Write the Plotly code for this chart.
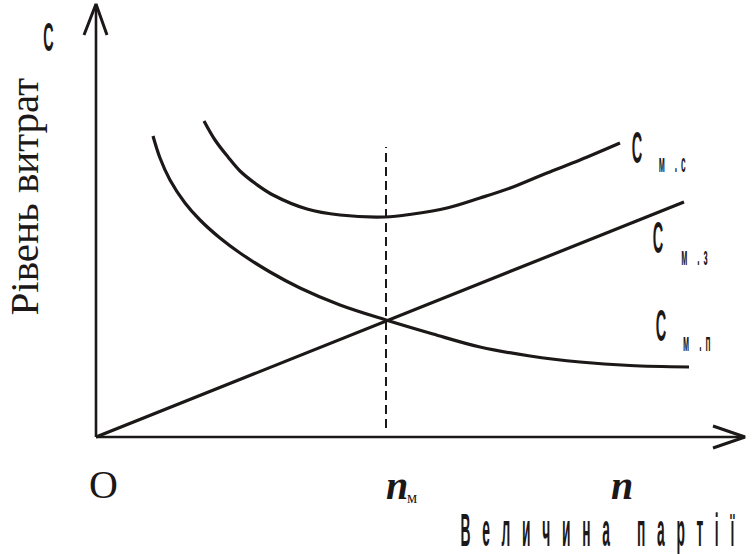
import json
import plotly.graph_objects as go

# ---- data (schematic units: origin at the axes crossing) ----
cmp_x = [57, 64, 74, 89, 104, 124, 144, 174, 204, 244, 290, 337, 384, 434, 484, 534, 593]
cmp_y = [301, 279, 257, 234, 217, 199, 184, 165, 149, 132, 117, 103, 90, 81, 75, 71.5, 70]

cmc_x = [108, 119, 132, 144, 160, 177, 211, 244, 289, 317, 351, 384, 417, 451, 484, 524]
cmc_y = [316, 297, 280, 266, 253, 242, 228, 222, 220, 223, 229, 239, 250, 264, 277, 294]

cmz_x = [0, 588]
cmz_y = [0, 235]

n_opt = 290          # n_м position
dash_y = [9, 290]

x_axis_end = 649
y_axis_end = 433

INK = "#1c1818"
SANS = "Liberation Sans, Arial, sans-serif"
SERIF = "Liberation Serif, Times New Roman, serif"

fig = go.Figure()

def line(xs, ys, width=3, dash=None, shape="linear"):
    fig.add_trace(go.Scatter(x=xs, y=ys, mode="lines",
                             line=dict(color=INK, width=width, dash=dash, shape=shape),
                             hoverinfo="skip", showlegend=False))

# axes with arrowheads
line([0, 0], [0, y_axis_end], width=2.6)
line([-12, 0, 11], [y_axis_end - 31, y_axis_end, y_axis_end - 31], width=3)
line([0, x_axis_end], [0, 0], width=2.6)
line([x_axis_end - 32, x_axis_end, x_axis_end - 32], [11, 0, -11], width=3)

# curves
line(cmp_x, cmp_y, width=3.2, shape="spline")
line(cmc_x, cmc_y, width=3.2, shape="spline")
line(cmz_x, cmz_y, width=3.2)
line([n_opt, n_opt], dash_y, width=2, dash="9px,5px")

narrow = {}   # annotation index -> [scaleX, letter spacing px]

def txt(x, y, s, size, family, squeeze=None, weight="normal", **kw):
    fig.add_annotation(x=x, y=y, xref="x", yref="y", text=s, showarrow=False,
                       font=dict(size=size, family=family, color=INK, weight=weight), **kw)
    if squeeze:
        narrow[str(len(fig.layout.annotations) - 1)] = squeeze

# labels (narrow condensed lettering)
txt(-48, 400, "C", 40, SANS, squeeze=[0.36, 0], weight="bold")
txt(541, 289.5, "C", 44, SANS, squeeze=[0.33, 0], weight="bold")
txt(578, 274.5, "м .с", 26, SANS, squeeze=[0.32, 12], weight="bold")
txt(562, 200, "C", 44, SANS, squeeze=[0.33, 0], weight="bold")
txt(600, 181, "м .з", 26, SANS, squeeze=[0.32, 12], weight="bold")
txt(565, 112, "C", 44, SANS, squeeze=[0.33, 0], weight="bold")
txt(602.5, 95.5, "м .п", 26, SANS, squeeze=[0.32, 12], weight="bold")

txt(-72.5, 240, "Рівень витрат", 41, SERIF, textangle=-90)
txt(7, -47, "O", 40, SERIF)
txt(n_opt + 11, -48, "<i>n</i>", 40, SERIF, weight="bold")
txt(n_opt + 26, -60, "м", 16, SERIF)
txt(526, -48, "<i>n</i>", 40, SERIF, weight="bold")
txt(508, -93, "Величина партії", 46, SANS, squeeze=[0.3, 39], weight="bold")

fig.update_layout(
    width=752, height=554,
    margin=dict(l=0, r=0, t=0, b=0),
    paper_bgcolor="white", plot_bgcolor="white",
    xaxis=dict(range=[-96, 656], visible=False, fixedrange=True),
    yaxis=dict(range=[-117, 437], visible=False, fixedrange=True),
    showlegend=False,
)

post = """
document.body.style.margin = '0';
document.body.style.overflow = 'hidden';
var gd = document.getElementById('{plot_id}');
var spec = %s;
function squeeze(){
  gd.querySelectorAll('g.annotation').forEach(function(g){
    var s = spec[g.getAttribute('data-index')];
    if (!s) return;
    var t = g.querySelector('text');
    if (!t) return;
    t.style.letterSpacing = s[1] + 'px';
    t.style.transformBox = 'fill-box';
    t.style.transformOrigin = 'center';
    t.style.transform = 'scaleX(' + s[0] + ')';
  });
}
squeeze();
if (gd.on) gd.on('plotly_afterplot', squeeze);
""" % json.dumps(narrow)

fig.write_html("out.html", post_script=post, config={"displayModeBar": False})
